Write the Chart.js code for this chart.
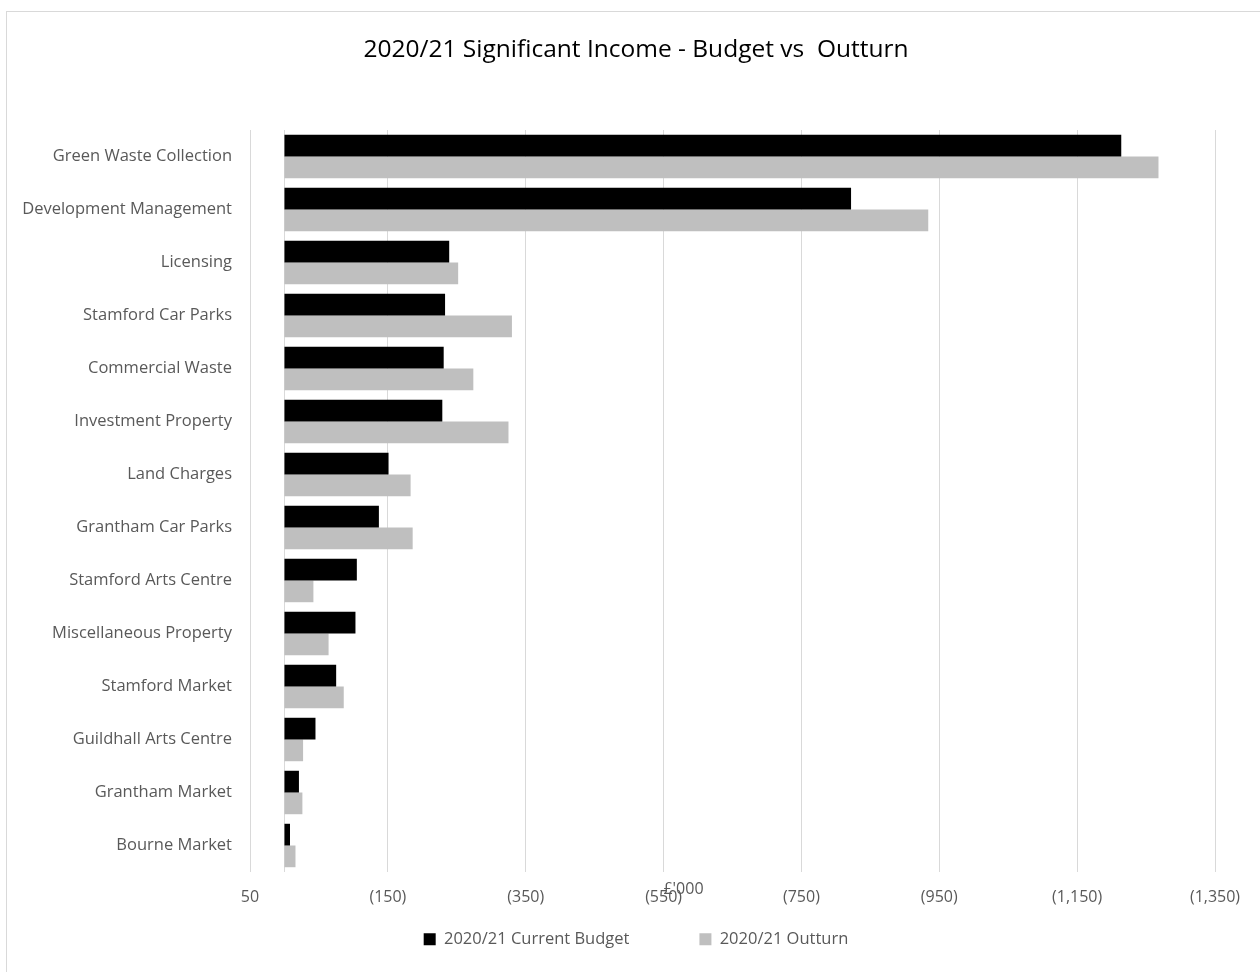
<!DOCTYPE html>
<html>
<head>
<meta charset="utf-8">
<title>2020/21 Significant Income - Budget vs Outturn</title>
<script src="https://cdn.jsdelivr.net/npm/chart.js@4.4.1/dist/chart.umd.min.js"></script>
<style>
  body { margin: 0; background: #fff; overflow: hidden; }
  .chart-container { position: absolute; left: 0; top: 0; width: 1260px; height: 972px; }
  .frame { position: absolute; left: 6px; top: 11px; width: 1300px; height: 1000px; border: 1px solid #d9d9d9; pointer-events: none; }
</style>
</head>
<body>
<div class="frame"></div>
<div class="chart-container">
  <canvas id="incomeChart"></canvas>
</div>
<script>
//Categories, top to bottom
const categories = [
  'Green Waste Collection',
  'Development Management',
  'Licensing',
  'Stamford Car Parks',
  'Commercial Waste',
  'Investment Property',
  'Land Charges',
  'Grantham Car Parks',
  'Stamford Arts Centre',
  'Miscellaneous Property',
  'Stamford Market',
  'Guildhall Arts Centre',
  'Grantham Market',
  'Bourne Market'
];

//£'000, income shown as negative values
const currentBudget = [-1214, -822, -239, -233, -231, -229, -151, -137, -105, -103, -75, -45, -21, -8];
const outturn = [-1268, -934, -252, -330, -274, -325, -183, -186, -42, -64, -86, -27, -26, -16];

//tick values on the value axis
const tickValues = [50, -150, -350, -550, -750, -950, -1150, -1350];

const labelColor = '#595959';
const gridColor = '#d9d9d9';
const fontFamily = "'Open Sans', sans-serif";

//format negatives in brackets e.g. (1,150)
const formatTick = (value) => {
  const abs = Math.abs(value).toString().replace(/\B(?=(\d{3})+(?!\d))/g, ',');
  return value < 0 ? '(' + abs + ')' : abs;
};

//draws the vertical line at zero and the £'000 axis title
const extrasPlugin = {
  id: 'extras',
  beforeDatasetsDraw(chart) {
    const { ctx, chartArea, scales } = chart;
    const x0 = Math.round(scales.x.getPixelForValue(0)) + 0.5;
    ctx.save();
    ctx.strokeStyle = gridColor;
    ctx.lineWidth = 1;
    ctx.beginPath();
    ctx.moveTo(x0, chartArea.top);
    ctx.lineTo(x0, chartArea.bottom);
    ctx.stroke();
    ctx.restore();
  },
  afterDraw(chart) {
    const { ctx, chartArea } = chart;
    ctx.save();
    ctx.font = '16px ' + fontFamily;
    ctx.fillStyle = labelColor;
    ctx.textAlign = 'center';
    ctx.textBaseline = 'middle';
    ctx.fillText("£'000", (chartArea.left + chartArea.right) / 2 - 49, chartArea.bottom + 17);
    ctx.restore();
  }
};

const ctx = document.getElementById('incomeChart').getContext('2d');

new Chart(ctx, {
  type: 'bar',
  data: {
    labels: categories,
    datasets: [
      {
        label: '2020/21 Current Budget',
        data: currentBudget,
        backgroundColor: '#000000',
        categoryPercentage: 0.82,
        barPercentage: 1.0,
      },
      {
        label: '2020/21 Outturn',
        data: outturn,
        backgroundColor: '#bfbfbf',
        categoryPercentage: 0.82,
        barPercentage: 1.0,
      }
    ]
  },
  options: {
    indexAxis: 'y',
    responsive: true,
    maintainAspectRatio: false,
    animation: false,
    layout: {
      padding: { left: 12, right: 0, top: 0, bottom: 14.5 }
    },
    scales: {
      x: {
        reverse: true,
        min: -1350,
        max: 50,
        afterBuildTicks: (scale) => {
          scale.ticks = tickValues.map(v => ({ value: v }));
        },
        afterFit: (scale) => {
          scale.height = 49;
        },
        grid: {
          color: gridColor,
          lineWidth: 1,
          drawTicks: false,
        },
        border: { display: false },
        ticks: {
          color: labelColor,
          font: { family: fontFamily, size: 16 },
          padding: 16,
          maxRotation: 0,
          callback: (value) => formatTick(value),
        }
      },
      y: {
        afterFit: (scale) => {
          scale.width = 238;
        },
        grid: { display: false, drawTicks: false },
        border: { display: false },
        ticks: {
          color: labelColor,
          font: { family: fontFamily, size: 16.5 },
          padding: 18,
          autoSkip: false,
        }
      },
      //empty right-hand strip so the plot stops short of the right edge
      yRight: {
        type: 'category',
        position: 'right',
        afterFit: (scale) => {
          scale.width = 45;
        },
        grid: { display: false, drawTicks: false },
        border: { display: false },
        ticks: { display: false },
      }
    },
    plugins: {
      title: {
        display: true,
        text: '2020/21 Significant Income - Budget vs  Outturn',
        color: '#000000',
        font: { family: fontFamily, size: 24.5, weight: 'normal' },
        padding: { top: 35.3, bottom: 65.3 },
      },
      legend: {
        display: true,
        position: 'bottom',
        labels: {
          color: labelColor,
          font: { family: fontFamily, size: 16.5 },
          boxWidth: 12,
          boxHeight: 12,
          padding: 10,
          //extra trailing space keeps the two entries apart like the original
          generateLabels: (chart) => {
            const items = Chart.defaults.plugins.legend.labels.generateLabels(chart);
            return items.map((item, i) => {
              if (i < items.length - 1) item.text = item.text + ' '.repeat(14);
              item.lineWidth = 0;
              return item;
            });
          }
        }
      },
      tooltip: {
        callbacks: {
          label: (context) => context.dataset.label + ': ' + formatTick(context.parsed.x)
        }
      }
    }
  },
  plugins: [extrasPlugin]
});
</script>
</body>
</html>
